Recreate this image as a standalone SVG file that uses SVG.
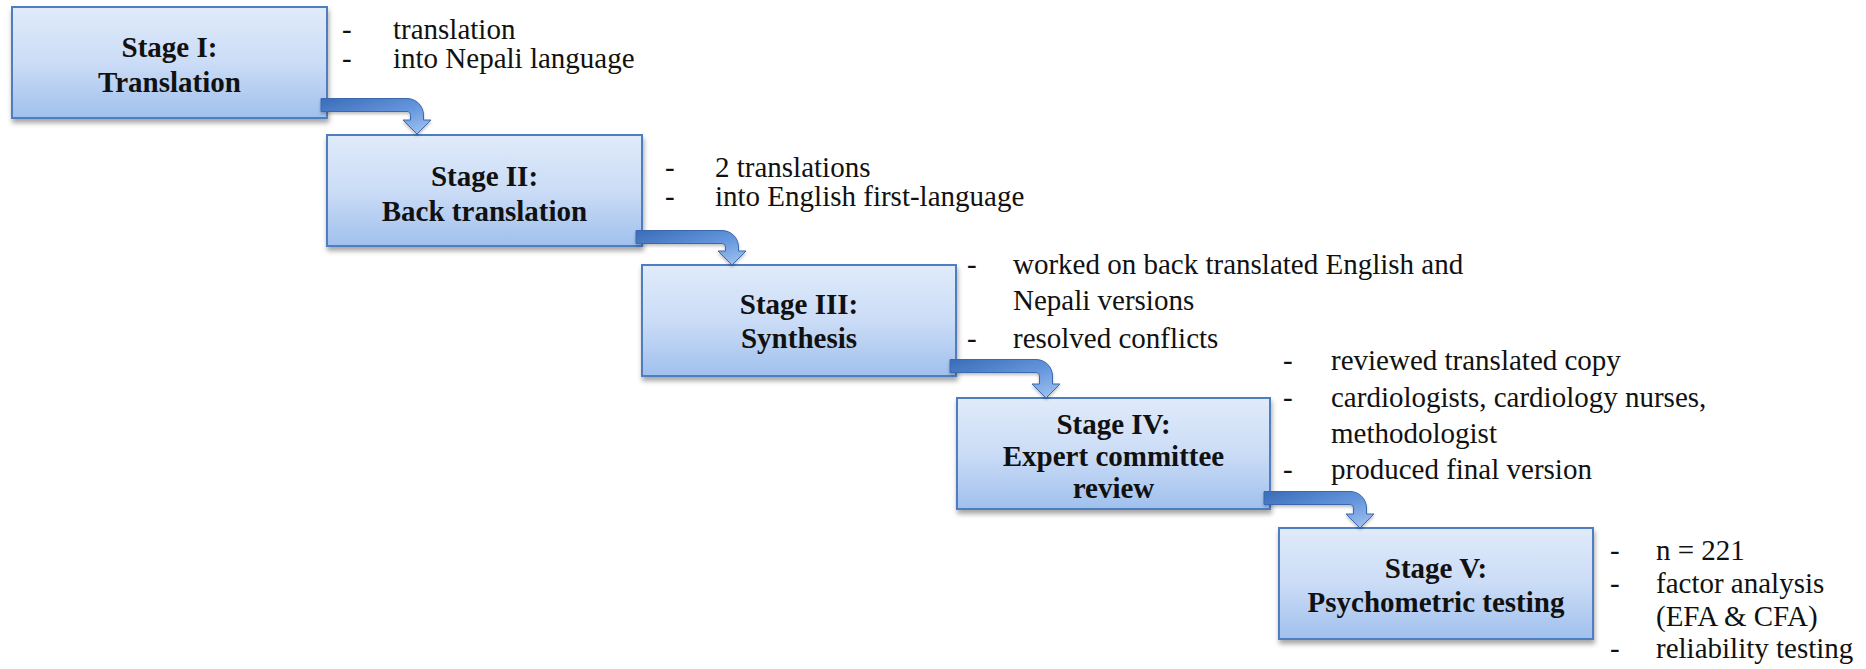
<svg xmlns="http://www.w3.org/2000/svg" width="1866" height="669" viewBox="0 0 1866 669">
<style>
.box{fill:url(#boxGrad);stroke:#4f7ec0;stroke-width:2;filter:url(#shadow);}
.title{font-family:"Liberation Serif","Times New Roman",serif;font-weight:bold;font-size:29px;fill:#111;text-anchor:middle;}
.bul{font-family:"Liberation Serif","Times New Roman",serif;font-size:29px;fill:#111;}
.arrow{fill:url(#arrowGrad);stroke:#3a69b0;stroke-width:1;filter:url(#ashadow);}
</style>
<defs>
<linearGradient id="boxGrad" x1="0" y1="0" x2="0" y2="1">
<stop offset="0" stop-color="#e0ebfa"/>
<stop offset="0.5" stop-color="#cbdcf6"/>
<stop offset="1" stop-color="#a0c0ed"/>
</linearGradient>
<linearGradient id="arrowGrad" x1="0" y1="0" x2="1" y2="1">
<stop offset="0" stop-color="#3a6cb7"/>
<stop offset="0.55" stop-color="#6596dd"/>
<stop offset="1" stop-color="#a6c6f1"/>
</linearGradient>
<filter id="shadow" x="-5%" y="-10%" width="112%" height="125%">
<feDropShadow dx="1" dy="4" stdDeviation="2.5" flood-color="#000" flood-opacity="0.35"/>
</filter>
<filter id="ashadow" x="-10%" y="-10%" width="130%" height="140%">
<feDropShadow dx="0" dy="2" stdDeviation="1.5" flood-color="#000" flood-opacity="0.25"/>
</filter>
</defs>

<g id="stage1">
<rect class="box" x="12" y="7" width="315" height="111"/>
<text class="title"><tspan x="169.5" y="57">Stage I:</tspan><tspan x="169.5" y="92">Translation</tspan></text>
<text class="bul" x="342" y="39">-</text><text class="bul" x="393" y="39">translation</text>
<text class="bul" x="342" y="68">-</text><text class="bul" x="393" y="68">into Nepali language</text>
</g>

<g id="stage2">
<rect class="box" x="327" y="135" width="315" height="111"/>
<text class="title"><tspan x="484.5" y="186">Stage II:</tspan><tspan x="484.5" y="221">Back translation</tspan></text>
<text class="bul" x="665" y="177">-</text><text class="bul" x="715" y="177">2 translations</text>
<text class="bul" x="665" y="206">-</text><text class="bul" x="715" y="206">into English first-language</text>
</g>

<g id="stage3">
<rect class="box" x="642" y="265" width="314" height="111"/>
<text class="title"><tspan x="799" y="314">Stage III:</tspan><tspan x="799" y="348">Synthesis</tspan></text>
<text class="bul" x="967" y="274">-</text><text class="bul" x="1013" y="274">worked on back translated English and</text>
<text class="bul" x="1013" y="310">Nepali versions</text>
<text class="bul" x="967" y="348">-</text><text class="bul" x="1013" y="348">resolved conflicts</text>
</g>

<g id="stage4">
<rect class="box" x="957" y="398" width="313" height="111"/>
<text class="title"><tspan x="1113.5" y="434">Stage IV:</tspan><tspan x="1113.5" y="466">Expert committee</tspan><tspan x="1113.5" y="498">review</tspan></text>
<text class="bul" x="1283" y="370">-</text><text class="bul" x="1331" y="370">reviewed translated copy</text>
<text class="bul" x="1283" y="407">-</text><text class="bul" x="1331" y="407">cardiologists, cardiology nurses,</text>
<text class="bul" x="1331" y="443">methodologist</text>
<text class="bul" x="1283" y="479">-</text><text class="bul" x="1331" y="479">produced final version</text>
</g>

<g id="stage5">
<rect class="box" x="1279" y="528" width="314" height="111"/>
<text class="title"><tspan x="1436" y="578">Stage V:</tspan><tspan x="1436" y="612">Psychometric testing</tspan></text>
<text class="bul" x="1610" y="560">-</text><text class="bul" x="1656" y="560">n = 221</text>
<text class="bul" x="1610" y="593">-</text><text class="bul" x="1656" y="593">factor analysis</text>
<text class="bul" x="1656" y="626">(EFA &amp; CFA)</text>
<text class="bul" x="1610" y="658">-</text><text class="bul" x="1656" y="658">reliability testing</text>
</g>

<g id="connectors">
<path class="arrow" d="M321,98.5 L407,98.5 A16.5,16.5 0 0 1 423.5,115 L423.5,120 L431,120 L417,134 L403,120 L410.5,120 L410.5,115.5 A3.5,3.5 0 0 0 407,111.5 L321,111.5 Z"/>
<path class="arrow" d="M636,230.5 L722,230.5 A16.5,16.5 0 0 1 738.5,247 L738.5,251 L746,251 L732,265 L718,251 L725.5,251 L725.5,247 A3.5,3.5 0 0 0 722,243.5 L636,243.5 Z"/>
<path class="arrow" d="M950,359.5 L1036,359.5 A16.5,16.5 0 0 1 1052.5,376 L1052.5,384 L1060,384 L1046,398 L1032,384 L1039.5,384 L1039.5,376 A3.5,3.5 0 0 0 1036,372.5 L950,372.5 Z"/>
<path class="arrow" d="M1264,491.5 L1350,491.5 A16.5,16.5 0 0 1 1366.5,508 L1366.5,514 L1374,514 L1360,528 L1346,514 L1353.5,514 L1353.5,508 A3.5,3.5 0 0 0 1350,504.5 L1264,504.5 Z"/>
</g>
</svg>
